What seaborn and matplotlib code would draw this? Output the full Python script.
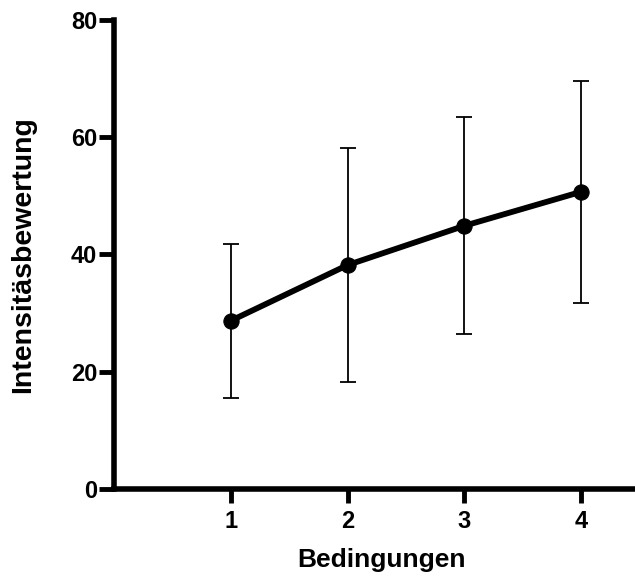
import matplotlib
matplotlib.use("Agg")
import matplotlib.pyplot as plt
import seaborn as sns
import pandas as pd

conditions = [1, 2, 3, 4]
means = [28.7, 38.2, 44.9, 50.7]
sds = [13.1, 20.0, 18.5, 18.9]
xticks = [1, 2, 3, 4]
yticks = [0, 20, 40, 60, 80]

sns.set_theme(style="ticks")
plt.rcParams['font.family'] = ['Liberation Sans', 'DejaVu Sans']
plt.rcParams['text.color'] = 'black'
plt.rcParams['axes.labelcolor'] = 'black'

fig = plt.figure(figsize=(6.35, 5.79), dpi=100)
ax = fig.add_axes([0.1795, 0.1554, 0.8205, 0.8101])

df = pd.DataFrame({"Bedingungen": conditions, "Intensitaet": means})

ax.errorbar(conditions, means, yerr=sds, fmt='none', ecolor='black',
            elinewidth=1.3, capsize=5.6, capthick=1.3, zorder=2)
sns.lineplot(data=df, x="Bedingungen", y="Intensitaet", ax=ax, color='black',
             linewidth=4.2, marker='o', markersize=11, markeredgecolor='black', zorder=3)

ax.set_xlim(0, 4.46)
ax.set_ylim(0, 80)
ax.set_xticks(xticks)
ax.set_yticks(yticks)
ax.set_xticklabels([str(t) for t in xticks], fontsize=17, fontweight='bold')
ax.set_yticklabels([str(t) for t in yticks], fontsize=17, fontweight='bold')
ax.set_xlabel("Bedingungen", fontsize=19, fontweight='bold', color='black')
ax.set_ylabel("Intensitäsbewertung", fontsize=20.5, fontweight='bold', color='black')
ax.xaxis.set_label_coords(0.5125, -0.125)
ax.yaxis.set_label_coords(-0.150, 0.5)

for s in ['top', 'right']:
    ax.spines[s].set_visible(False)
for s in ['left', 'bottom']:
    ax.spines[s].set_linewidth(4)
    ax.spines[s].set_color('black')
ax.tick_params(axis='x', length=10, width=3.5, color='black', pad=5, labelcolor='black')
ax.tick_params(axis='y', length=11, width=3.5, color='black', pad=1, labelcolor='black')

fig.savefig("out.png", dpi=100)
